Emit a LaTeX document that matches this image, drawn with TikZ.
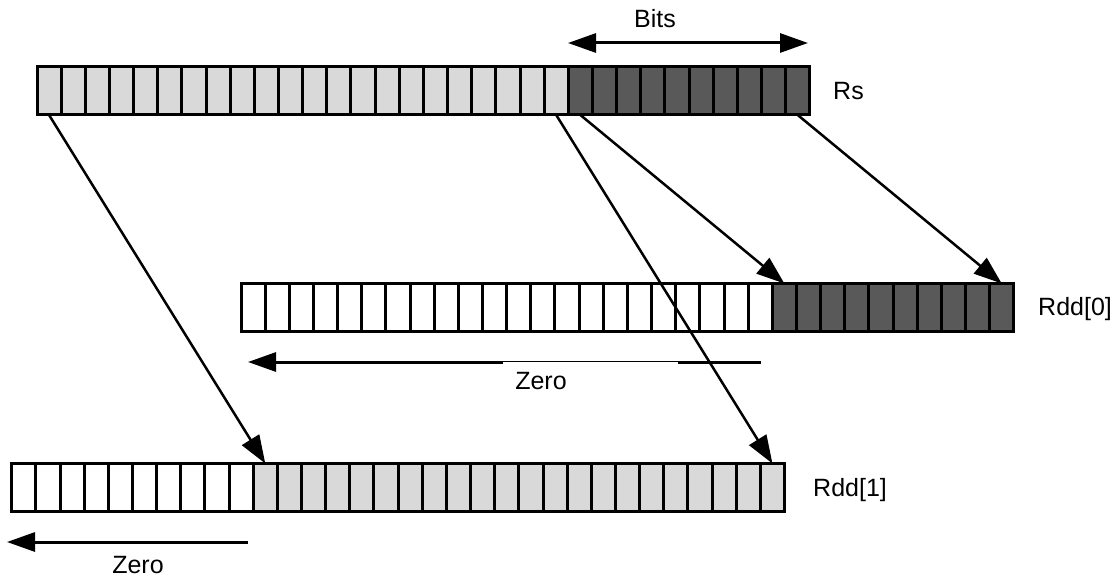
\documentclass[tikz,border=0pt]{standalone}
\usepackage{fontspec}
\setmainfont{Liberation Sans}
\usetikzlibrary{arrows.meta}
\definecolor{lightcell}{HTML}{D9D9D9}
\definecolor{darkcell}{HTML}{595959}
\begin{document}
\begin{tikzpicture}[x=1pt,y=-1pt,
  cell/.style={draw=black, line width=3pt, minimum width=24.15pt, minimum height=48pt, inner sep=0pt, outer sep=0pt},
  lightbit/.style={cell, fill=lightcell},
  darkbit/.style={cell, fill=darkcell},
  zerobit/.style={cell, fill=white},
  conn/.style={line width=2.5pt, -{Triangle[length=28pt,width=20pt]}},
  dimarrow/.style={line width=3pt, {Triangle[length=28pt,width=19pt]}-{Triangle[length=28pt,width=19pt]}},
  zeroarrow/.style={line width=3pt, -{Triangle[length=28pt,width=19pt]}},
  lbl/.style={font=\fontsize{25}{29}\selectfont, inner sep=0pt}
]
\useasboundingbox (0,0) rectangle (1116,577);

% Rs register
\foreach \i in {0,...,21} \node[lightbit] (rs-\i) at ({37+24.15*(\i+0.5)},91) {};
\foreach \i in {22,...,31} \node[darkbit] (rs-\i) at ({37+24.15*(\i+0.5)},91) {};

% Rdd[0] register
\foreach \i in {0,...,21} \node[zerobit] (rdda-\i) at ({241+24.15*(\i+0.5)},307.5) {};
\foreach \i in {22,...,31} \node[darkbit] (rdda-\i) at ({241+24.15*(\i+0.5)},307.5) {};

% Rdd[1] register
\foreach \i in {0,...,9} \node[zerobit] (rddb-\i) at ({11.7+24.15*(\i+0.5)},487.5) {};
\foreach \i in {10,...,31} \node[lightbit] (rddb-\i) at ({11.7+24.15*(\i+0.5)},487.5) {};

% labels
\node[lbl, anchor=base] (bits) at (655,28) {Bits};
\node[lbl, anchor=base west] (rslbl) at (833,100) {Rs};
\node[lbl, anchor=base west] (rddalbl) at (1038,316) {Rdd[0]};
\node[lbl, anchor=base west] (rddblbl) at (813,496) {Rdd[1]};
\node[lbl, anchor=base] (zeroa) at (541,389) {Zero};
\node[lbl, anchor=base] (zerob) at (138,573) {Zero};

% Bits dimension arrow
\coordinate (bitsL) at (568,43);
\coordinate (bitsR) at (808,43);
\draw[dimarrow] (bitsL) -- (bitsR);

% mapping arrows
\draw[conn] (rs-0.south) -- (rddb-10.north);
\draw[conn] (rs-21.south) -- (rddb-31.north);
\draw[conn] (rs-22.south) -- (rdda-22.north);
\draw[conn] (rs-31.south) -- (rdda-31.north);

% zero-fill arrows
\coordinate (zaS) at (761,362);
\coordinate (zaE) at (248,362);
\draw[zeroarrow] (zaS) -- (zaE);
\fill[white] (503,362) rectangle (678,364);
\coordinate (zbS) at (248,542);
\coordinate (zbE) at (7,542);
\draw[zeroarrow] (zbS) -- (zbE);
\end{tikzpicture}
\end{document}
